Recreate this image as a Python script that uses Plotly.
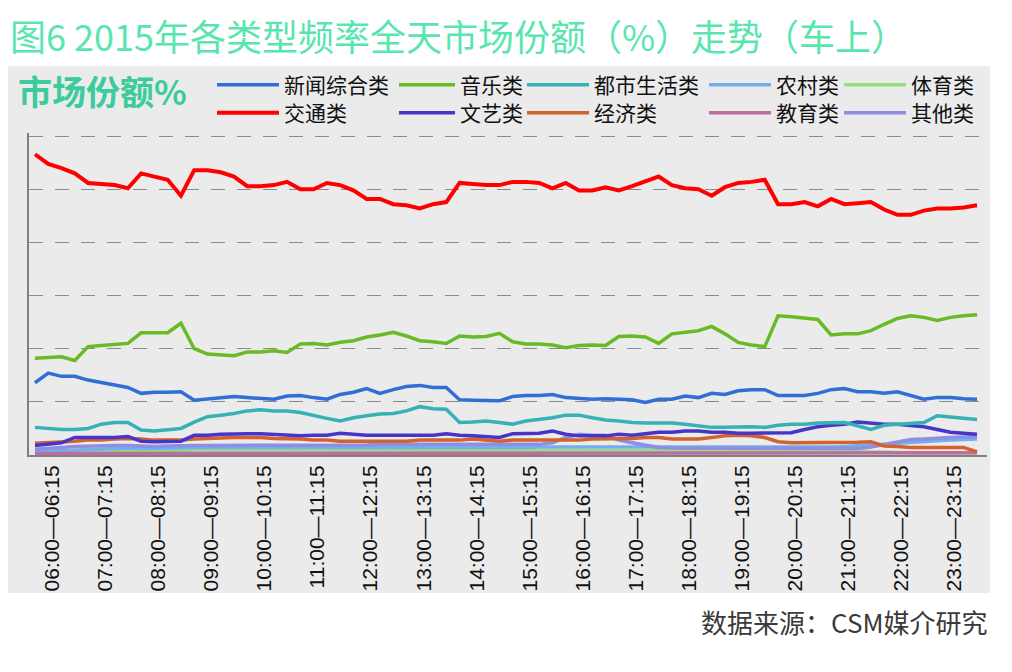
import plotly.graph_objects as go

# ---------------- data ----------------
slots = list(range(72))  # 15-minute slots from 06:00 to 23:45

tick_labels = ["06:00—06:15", "07:00—07:15", "08:00—08:15", "09:00—09:15",
               "10:00—10:15", "11:00—11:15", "12:00—12:15", "13:00—13:15",
               "14:00—14:15", "15:00—15:15", "16:00—16:15", "17:00—17:15",
               "18:00—18:15", "19:00—19:15", "20:00—20:15", "21:00—21:15",
               "22:00—22:15", "23:00—23:15"]

news = [6.8, 7.7, 7.4, 7.4, 7.05, 6.8, 6.55, 6.35, 5.8, 5.9, 5.9, 5.95, 5.15, 5.25, 5.4, 5.5, 5.4, 5.3, 5.25, 5.55, 5.6, 5.4, 5.25, 5.7,
        5.9, 6.25, 5.8, 6.15, 6.45, 6.55, 6.35, 6.35, 5.2, 5.15, 5.1, 5.1, 5.5, 5.6, 5.6, 5.7, 5.4, 5.3, 5.25, 5.3, 5.25, 5.2, 4.95, 5.25,
        5.25, 5.55, 5.4, 5.8, 5.7, 6.05, 6.15, 6.15, 5.6, 5.6, 5.6, 5.8, 6.15, 6.25, 5.95, 5.95, 5.8, 5.95, 5.6, 5.25, 5.4, 5.4, 5.3, 5.25]
music = [9.1, 9.2, 9.25, 8.9, 10.2, 10.3, 10.4, 10.5, 11.5, 11.5, 11.5, 12.4, 10.0, 9.5, 9.4, 9.35, 9.7, 9.7, 9.8, 9.65, 10.45, 10.5, 10.35, 10.6,
         10.75, 11.1, 11.3, 11.55, 11.2, 10.75, 10.65, 10.5, 11.2, 11.1, 11.15, 11.45, 10.65, 10.45, 10.45, 10.35, 10.1, 10.3, 10.35, 10.3, 11.15, 11.2, 11.1, 10.5,
         11.4, 11.55, 11.7, 12.1, 11.4, 10.6, 10.35, 10.2, 13.1, 13.0, 12.85, 12.75, 11.3, 11.4, 11.4, 11.7, 12.3, 12.85, 13.1, 12.95, 12.65, 12.95, 13.1, 13.2]
urban = [2.6, 2.5, 2.4, 2.4, 2.5, 2.9, 3.05, 3.05, 2.35, 2.25, 2.35, 2.5, 3.1, 3.6, 3.75, 3.9, 4.15, 4.25, 4.15, 4.15, 4.0, 3.7, 3.45, 3.2,
         3.5, 3.7, 3.85, 3.9, 4.15, 4.55, 4.35, 4.3, 3.05, 3.1, 3.2, 3.05, 2.9, 3.2, 3.35, 3.5, 3.75, 3.75, 3.5, 3.3, 3.2, 3.05, 3.0, 3.0,
         3.0, 2.9, 2.75, 2.6, 2.6, 2.65, 2.65, 2.6, 2.8, 2.9, 2.9, 3.0, 3.05, 3.05, 2.75, 2.4, 2.8, 2.9, 3.0, 3.05, 3.7, 3.6, 3.5, 3.35]
rural = [0.3, 0.35, 0.4, 0.5, 0.55, 0.6, 0.6, 0.65, 0.6, 0.6, 0.65, 0.65, 0.7, 0.7, 0.7, 0.7, 0.7, 0.7, 0.65, 0.65, 0.65, 0.65, 0.65, 0.65,
         0.65, 0.65, 0.7, 0.7, 0.7, 0.7, 0.7, 0.7, 0.7, 0.7, 0.7, 0.7, 0.7, 0.7, 0.75, 0.75, 0.75, 0.75, 0.7, 0.7, 0.7, 0.7, 0.7, 0.7,
         0.7, 0.7, 0.7, 0.7, 0.7, 0.7, 0.7, 0.7, 0.7, 0.7, 0.7, 0.75, 0.75, 0.8, 0.85, 0.9, 1.0, 1.1, 1.2, 1.3, 1.35, 1.4, 1.45, 1.5]
sports = [0.4, 0.4, 0.45, 0.45, 0.45, 0.45, 0.45, 0.45, 0.45, 0.45, 0.45, 0.45, 0.5, 0.5, 0.5, 0.5, 0.5, 0.5, 0.5, 0.5, 0.5, 0.5, 0.5, 0.5,
          0.5, 0.5, 0.5, 0.5, 0.5, 0.5, 0.45, 0.45, 0.4, 0.4, 0.4, 0.4, 0.4, 0.4, 0.35, 0.35, 0.35, 0.35, 0.35, 0.35, 0.35, 0.35, 0.35, 0.35,
          0.35, 0.35, 0.35, 0.35, 0.35, 0.35, 0.35, 0.35, 0.4, 0.4, 0.4, 0.4, 0.4, 0.4, 0.4, 0.3, 0.25, 0.2, 0.2, 0.2, 0.2, 0.2, 0.2, 0.2]
traffic = [28.3, 27.4, 27.0, 26.5, 25.6, 25.5, 25.4, 25.1, 26.5, 26.2, 25.9, 24.4, 26.8, 26.8, 26.6, 26.2, 25.3, 25.3, 25.4, 25.7, 25.0, 25.0, 25.6, 25.4,
           24.9, 24.1, 24.1, 23.6, 23.5, 23.2, 23.6, 23.8, 25.6, 25.5, 25.4, 25.4, 25.7, 25.7, 25.6, 25.1, 25.6, 24.9, 24.9, 25.2, 24.9, 25.3, 25.8, 26.2,
           25.4, 25.1, 25.0, 24.4, 25.2, 25.6, 25.7, 25.9, 23.6, 23.6, 23.8, 23.4, 24.1, 23.6, 23.7, 23.8, 23.1, 22.6, 22.6, 23.0, 23.2, 23.2, 23.3, 23.5]
arts = [0.9, 1.0, 1.15, 1.65, 1.65, 1.65, 1.65, 1.75, 1.3, 1.25, 1.25, 1.3, 1.85, 1.85, 1.95, 2.0, 2.0, 2.0, 1.95, 1.85, 1.8, 1.85, 1.85, 2.05,
        1.95, 1.85, 1.85, 1.85, 1.85, 1.85, 1.85, 2.0, 1.85, 1.8, 1.7, 1.65, 2.0, 2.0, 2.05, 2.25, 1.95, 1.8, 1.8, 1.8, 1.95, 1.85, 2.0, 2.15,
        2.15, 2.25, 2.25, 2.15, 2.15, 2.05, 2.05, 2.05, 2.05, 2.1, 2.4, 2.65, 2.8, 2.9, 3.1, 3.0, 2.9, 2.9, 2.8, 2.65, 2.4, 2.15, 2.05, 1.95]
economy = [1.1, 1.15, 1.25, 1.3, 1.4, 1.4, 1.5, 1.55, 1.5, 1.4, 1.4, 1.4, 1.5, 1.55, 1.65, 1.65, 1.65, 1.65, 1.55, 1.55, 1.5, 1.4, 1.4, 1.3,
           1.3, 1.25, 1.25, 1.25, 1.3, 1.4, 1.4, 1.4, 1.4, 1.5, 1.4, 1.3, 1.4, 1.4, 1.4, 1.4, 1.4, 1.4, 1.5, 1.5, 1.55, 1.55, 1.65, 1.65,
           1.5, 1.5, 1.5, 1.65, 1.8, 1.85, 1.8, 1.65, 1.25, 1.15, 1.15, 1.15, 1.15, 1.2, 1.2, 1.25, 0.85, 0.8, 0.7, 0.7, 0.7, 0.7, 0.7, 0.3]
education = [0.15, 0.15, 0.15, 0.15, 0.15, 0.15, 0.15, 0.15, 0.15, 0.15, 0.15, 0.15, 0.15, 0.15, 0.15, 0.15, 0.15, 0.15, 0.15, 0.15, 0.15, 0.15, 0.15, 0.15,
             0.15, 0.15, 0.15, 0.15, 0.15, 0.15, 0.15, 0.15, 0.15, 0.15, 0.15, 0.15, 0.15, 0.15, 0.15, 0.15, 0.15, 0.15, 0.15, 0.15, 0.15, 0.15, 0.15, 0.15,
             0.15, 0.15, 0.15, 0.15, 0.15, 0.15, 0.15, 0.15, 0.15, 0.15, 0.15, 0.15, 0.2, 0.2, 0.2, 0.2, 0.2, 0.2, 0.2, 0.2, 0.2, 0.2, 0.2, 0.2]
others = [0.55, 0.6, 0.7, 0.8, 0.85, 0.85, 0.9, 0.9, 0.85, 0.8, 0.85, 0.9, 0.9, 0.9, 0.9, 0.95, 0.95, 0.95, 0.95, 0.95, 0.95, 0.95, 0.9, 0.9,
          0.95, 0.95, 1.0, 1.0, 1.0, 1.0, 1.0, 1.0, 1.0, 1.0, 1.0, 1.0, 1.0, 1.0, 1.0, 1.15, 1.65, 1.95, 1.85, 1.85, 1.4, 1.15, 0.9, 0.7,
          0.65, 0.65, 0.6, 0.6, 0.6, 0.6, 0.6, 0.6, 0.6, 0.6, 0.6, 0.6, 0.6, 0.6, 0.6, 0.75, 1.0, 1.25, 1.45, 1.5, 1.6, 1.65, 1.7, 1.75]

series_names = ["新闻综合类", "音乐类", "都市生活类", "农村类", "体育类",
                "交通类", "文艺类", "经济类", "教育类", "其他类"]
series_values = [news, music, urban, rural, sports,
                 traffic, arts, economy, education, others]
series_colors = ["#2F6FD6", "#68BB24", "#35B2B6", "#74AEEC", "#92E07E",
                 "#FF0000", "#4636C8", "#D4622C", "#C06CA2", "#8E8EE2"]

# ---------------- figure ----------------
OFF = 8                      # page body margin of the browser
W, H = 1012 - OFF, 672 - OFF
YMAX = 30.3                  # a little headroom so the 30 gridline is drawn
pw = 958
ph = 319 * YMAX / 30.0       # 30 units span 319 px
L = 29 - OFF                 # plot area left edge (screen px 29)
T = 455 - ph - OFF           # bottom axis at screen px 455
R = W - L - pw
B = H - T - ph

def px_x(p):                 # screen px -> paper x
    return (p - OFF - L) / pw

def px_y(p):                 # screen px -> paper y
    return (H - B - (p - OFF)) / ph

fig = go.Figure()

# legend column pixel positions (screen px) and row centres
col_left = [212, 394, 522, 704, 839]
row_y = [85, 113]

draw_order = [4, 3, 8, 9, 7, 6, 2, 0, 1, 5]
for idx in draw_order:
    lg = "legend" if idx == 0 else f"legend{idx + 1}"
    fig.add_trace(go.Scatter(
        x=slots, y=series_values[idx], mode="lines", name=series_names[idx],
        line=dict(color=series_colors[idx], width=4 if idx == 5 else 3.5),
        legend=lg, showlegend=True, hoverinfo="skip"))

legend_layout = {}
for idx in range(10):
    row, col = divmod(idx, 5)
    key = "legend" if idx == 0 else f"legend{idx + 1}"
    legend_layout[key] = dict(
        x=px_x(col_left[col]), y=px_y(row_y[row]), xanchor="left", yanchor="middle",
        bgcolor="rgba(0,0,0,0)", borderwidth=0, itemwidth=62 if col != 1 else 56,
        font=dict(family="Noto Sans CJK SC", size=21, color="#111111"),
        tracegroupgap=0)

fig.update_layout(**legend_layout)

fig.update_layout(
    width=W, height=H,
    margin=dict(l=L, r=R, t=T, b=B, pad=0),
    paper_bgcolor="white",
    plot_bgcolor="rgba(0,0,0,0)",
    showlegend=True,
    xaxis=dict(
        range=[-0.45, 71.75], showgrid=False, zeroline=False, automargin=False,
        showline=True, linecolor="#808080", linewidth=2,
        tickmode="array", tickvals=[4 * k + 1.3 for k in range(len(tick_labels))],
        ticktext=tick_labels, tickangle=-90, ticks="",
        tickfont=dict(family="Liberation Sans", size=21, color="#111111"),
    ),
    yaxis=dict(
        range=[0, YMAX], tickmode="array", tickvals=[5, 10, 15, 20, 25, 30],
        showticklabels=False, ticks="", automargin=False,
        showgrid=True, gridcolor="#8A8A8A", gridwidth=1, griddash="14px,12px",
        zeroline=False, showline=True, linecolor="#808080", linewidth=2,
    ),
    shapes=[dict(type="rect", xref="paper", yref="paper",
                 x0=px_x(7), x1=px_x(990), y0=px_y(593), y1=px_y(66),
                 fillcolor="#EBEBEB", line=dict(width=0), layer="below")],
    annotations=[
        dict(text="图6 2015年各类型频率全天市场份额（%）走势（车上）",
             xref="paper", yref="paper", x=px_x(8), y=px_y(35),
             xanchor="left", yanchor="middle", showarrow=False,
             font=dict(family="Noto Sans CJK SC", size=36, color="#58E6AE")),
        dict(text="<b>市场份额%</b>",
             xref="paper", yref="paper", x=px_x(16), y=px_y(90),
             xanchor="left", yanchor="middle", showarrow=False,
             font=dict(family="Noto Sans CJK SC", size=34, color="#3CCB9C")),
        dict(text="数据来源：CSM媒介研究",
             xref="paper", yref="paper", x=px_x(990), y=px_y(622),
             xanchor="right", yanchor="middle", showarrow=False,
             font=dict(family="Noto Sans CJK SC", size=26, color="#3A3A3A")),
    ],
)

fig.write_html("out.html")
